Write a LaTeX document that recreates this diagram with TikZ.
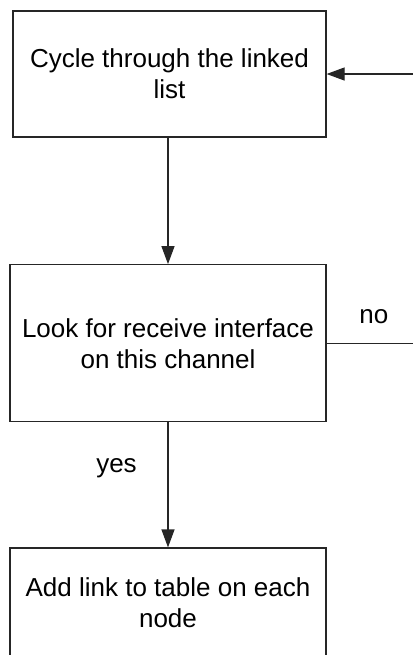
\documentclass[tikz,border=0pt]{standalone}
\usepackage{fontspec}
\setmainfont{Liberation Sans}
\usetikzlibrary{arrows.meta,positioning}

\begin{document}
\begin{tikzpicture}[x=0.5pt,y=-0.5pt,
  stepbox/.style={draw=black!85,line width=0.6pt,inner sep=0pt,align=center,
    font=\fontsize{13}{15.5}\selectfont},
  flow/.style={draw=black!85,line width=0.6pt,-{Triangle[length=9pt,width=6.5pt]}},
  lbl/.style={font=\fontsize{13}{15}\selectfont}]
\useasboundingbox (0,0) rectangle (413,655);
\clip (0,0) rectangle (413,655);

\node[stepbox,minimum width=156.5pt,minimum height=63pt]   (cyc)  at (169.5,74)  {Cycle through the linked\\list};
\node[stepbox,minimum width=158pt,minimum height=78.5pt]   (look) at (168,343.2) {Look for receive interface\\on this channel};
\node[stepbox,minimum width=158pt,minimum height=55pt]     (add)  at (168,603)   {Add link to table on each\\node};
\coordinate (loopx) at (445,0);

\draw[flow] (cyc.south -| look.north) -- (look.north);
\draw[flow] (look.south) -- node[lbl,pos=0.37,left=12pt] {yes} (add.north);
\draw[flow] (look.east) -- node[lbl,pos=0.4,above=6pt] {no} (look.east -| loopx) |- (cyc.east);

\end{tikzpicture}
\end{document}
